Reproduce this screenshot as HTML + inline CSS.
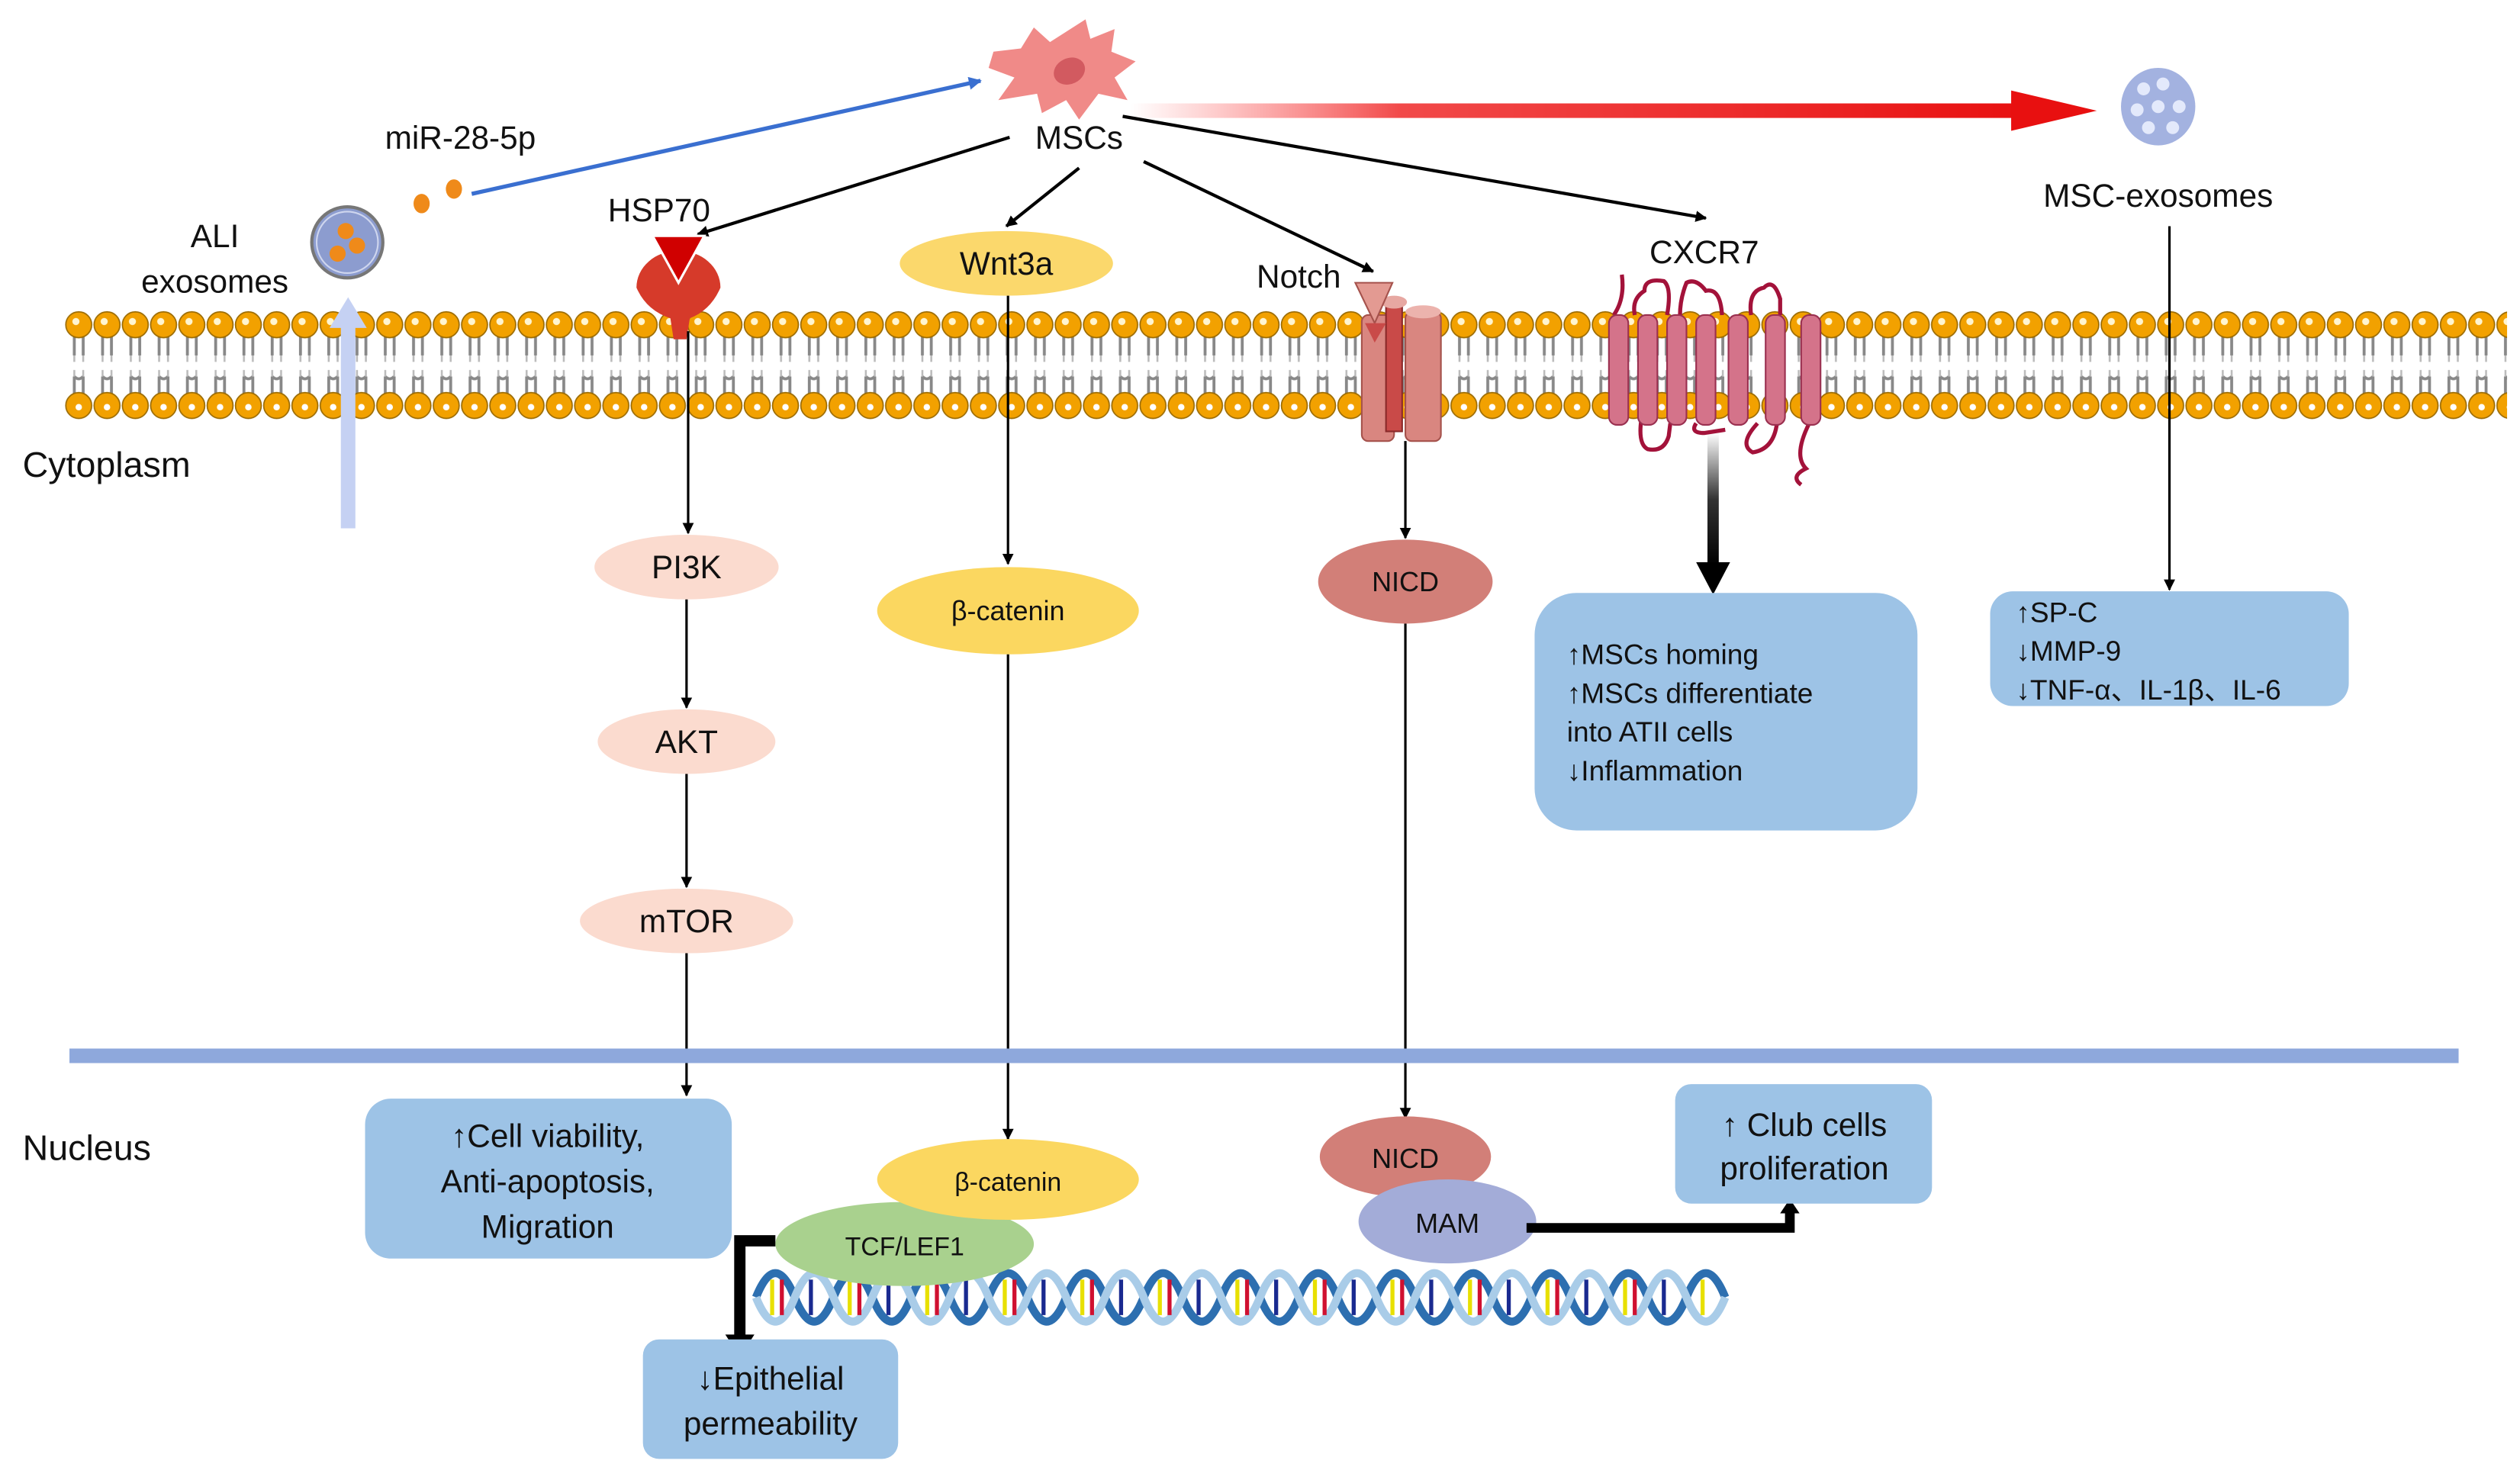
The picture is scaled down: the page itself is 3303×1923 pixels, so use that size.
<!DOCTYPE html>
<html><head><meta charset="utf-8"><style>
html,body{margin:0;padding:0;background:#fff}
svg{display:block}
text{font-family:"Liberation Sans","Noto Sans CJK SC",sans-serif;fill:#111}
</style></head><body>
<svg width="3303" height="1923" viewBox="0 0 1560 908" preserveAspectRatio="none" xmlns="http://www.w3.org/2000/svg">
<defs>
<pattern id="lip" x="40" y="190" width="17.5" height="72" patternUnits="userSpaceOnUse">
 <path d="M6 17 v13 M11.5 17 v13 M6 17 q2.75 -3 5.5 0 M6 43 v11 M11.5 43 v11 M6 43 q2.75 3 5.5 0" stroke="#888" stroke-width="1.8" fill="none"/>
 <path d="M6 30 v4 M11.5 30 v4 M6 39 v4 M11.5 39 v4" stroke="#bbb" stroke-width="1.2"/>
 <circle cx="8.75" cy="11" r="8" fill="#f2a100" stroke="#9a6a00" stroke-width="0.8"/>
 <circle cx="8.75" cy="61" r="8" fill="#f2a100" stroke="#9a6a00" stroke-width="0.8"/>
 <circle cx="7" cy="9" r="2.2" fill="#fff5d0"/>
 <circle cx="8.75" cy="62" r="2" fill="#fff"/>
</pattern>
<linearGradient id="redg" x1="0" x2="1" y1="0" y2="0">
 <stop offset="0" stop-color="#ff4040" stop-opacity="0"/>
 <stop offset="0.3" stop-color="#ee1c1c" stop-opacity="0.8"/>
 <stop offset="1" stop-color="#e81010"/>
</linearGradient>
<linearGradient id="blk" x1="0" x2="0" y1="0" y2="1">
 <stop offset="0" stop-color="#000" stop-opacity="0"/>
 <stop offset="0.5" stop-color="#000" stop-opacity="0.8"/>
 <stop offset="1" stop-color="#000"/>
</linearGradient>
<marker id="ar" viewBox="0 0 10 10" refX="9" refY="5" markerWidth="7" markerHeight="7" orient="auto" markerUnits="userSpaceOnUse"><path d="M0 0L10 5L0 10z" fill="#000"/></marker>
<marker id="arb" viewBox="0 0 10 10" refX="9" refY="5" markerWidth="8" markerHeight="8" orient="auto" markerUnits="userSpaceOnUse"><path d="M0 0L10 5L0 10z" fill="#3a6fd0"/></marker>
</defs>

<!-- membrane -->
<rect x="40" y="190" width="1512" height="72" fill="url(#lip)"/>

<!-- light blue up arrow -->
<rect x="211" y="200" width="9" height="127" fill="#c5d1f3"/>
<path d="M204 203 L215.5 184 L227 203z" fill="#c5d1f3"/>

<!-- ALI exosome -->
<circle cx="215" cy="150" r="22" fill="#8c9ccf" stroke="#777" stroke-width="2"/>
<circle cx="215" cy="150" r="19" fill="none" stroke="#cfd6ee" stroke-width="1"/>
<circle cx="214" cy="143" r="5" fill="#ef8a1a"/><circle cx="221" cy="152" r="5" fill="#ef8a1a"/><circle cx="209" cy="157" r="5" fill="#ef8a1a"/>
<text x="133" y="153" font-size="20" text-anchor="middle">ALI</text>
<text x="133" y="181" font-size="20" text-anchor="middle">exosomes</text>
<ellipse cx="261" cy="126" rx="5" ry="6" fill="#ef8a1a"/><ellipse cx="281" cy="117" rx="5" ry="6" fill="#ef8a1a"/>
<text x="285" y="92" font-size="20" text-anchor="middle">miR-28-5p</text>
<line x1="292" y1="120" x2="607" y2="50" stroke="#3a6fd0" stroke-width="2.5" marker-end="url(#arb)"/>

<!-- MSC cell -->
<path d="M615 32 L632 30 L640 17 L650 26 L672 12 L675 24 L690 18 L688 32 L703 38 L690 48 L698 62 L680 58 L668 74 L660 62 L645 70 L642 58 L618 62 L628 48 L612 42z" fill="#f08a88"/>
<ellipse cx="662" cy="44" rx="10" ry="8" fill="#d25a60" transform="rotate(-25 662 44)"/>
<text x="668" y="92" font-size="20" text-anchor="middle">MSCs</text>

<!-- red arrow -->
<rect x="700" y="64" width="555" height="9" fill="url(#redg)"/>
<path d="M1245 56 L1298 68.5 L1245 81z" fill="#e81010"/>
<!-- MSC exosome -->
<ellipse cx="1336" cy="66" rx="23" ry="24" fill="#a3b2e0"/>
<g fill="#e3e9fb"><circle cx="1327" cy="55" r="4"/><circle cx="1339" cy="52" r="4"/><circle cx="1323" cy="68" r="4"/><circle cx="1336" cy="66" r="4"/><circle cx="1349" cy="66" r="4"/><circle cx="1330" cy="79" r="4"/><circle cx="1345" cy="79" r="4"/></g>
<text x="1336" y="128" font-size="20" text-anchor="middle">MSC-exosomes</text>

<!-- MSC arrows -->
<line x1="625" y1="85" x2="432" y2="145" stroke="#000" stroke-width="2" marker-end="url(#ar)"/>
<line x1="668" y1="104" x2="623" y2="140" stroke="#000" stroke-width="2" marker-end="url(#ar)"/>
<line x1="708" y1="100" x2="850" y2="168" stroke="#000" stroke-width="2" marker-end="url(#ar)"/>
<line x1="695" y1="72" x2="1056" y2="135" stroke="#000" stroke-width="2" marker-end="url(#ar)"/>

<!-- HSP70 -->
<text x="408" y="137" font-size="20" text-anchor="middle">HSP70</text>
<path d="M394 178 A25 22 0 1 1 446 178 Q440 192 427 197 L425 210 L417 210 L415 197 Q400 192 394 178z" fill="#d63a2a"/>
<path d="M404 146 L436 146 L420 175z" fill="#d00000" stroke="#fff" stroke-width="1.5"/>

<!-- Wnt3a -->
<ellipse cx="623" cy="163" rx="66" ry="20" fill="#fbd86c"/>
<text x="623" y="170" font-size="20" text-anchor="middle">Wnt3a</text>

<!-- Notch -->
<text x="804" y="178" font-size="20" text-anchor="middle">Notch</text>
<rect x="843" y="195" width="20" height="78" rx="4" fill="#d98680" stroke="#a5524c"/>
<rect x="858" y="187" width="10" height="80" fill="#c94a48" stroke="#8a2a2a"/>
<ellipse cx="863" cy="187" rx="8" ry="4" fill="#e7a8a2"/>
<rect x="870" y="193" width="22" height="80" rx="4" fill="#d98680" stroke="#a5524c"/>
<ellipse cx="881" cy="193" rx="11" ry="4" fill="#ecb3ad"/>
<path d="M839 175 L862 175 L851 200z" fill="#e39a92" stroke="#a5524c"/>
<path d="M845 200 L858 200 L851 212z" fill="#c94a48"/>

<!-- CXCR7 -->
<text x="1055" y="163" font-size="20" text-anchor="middle">CXCR7</text>
<path d="M1004 170 Q1006 185 999 195 M1012 195 Q1010 185 1018 180 Q1018 172 1030 174 Q1035 178 1032 195 M1040 195 Q1040 185 1044 175 Q1050 172 1056 180 Q1065 178 1066 195 M1084 195 Q1082 180 1092 178 Q1098 172 1102 185 L1102 195 M1016 260 Q1014 275 1020 278 Q1030 280 1033 270 L1034 262 M1050 262 Q1046 268 1055 268 L1068 266 M1088 262 Q1076 275 1085 280 Q1098 278 1100 262 M1120 262 Q1110 282 1118 290 Q1108 295 1115 300" stroke="#a3123a" stroke-width="2.5" fill="none"/>
<g fill="#d4738a" stroke="#9a3050" stroke-width="1">
<rect x="996" y="195" width="12" height="68" rx="5"/><rect x="1014" y="195" width="12" height="68" rx="5"/><rect x="1032" y="195" width="12" height="68" rx="5"/><rect x="1050" y="195" width="12" height="68" rx="5"/><rect x="1070" y="195" width="12" height="68" rx="5"/><rect x="1093" y="195" width="12" height="68" rx="5"/><rect x="1115" y="195" width="12" height="68" rx="5"/></g>

<text x="14" y="295" font-size="22">Cytoplasm</text>

<!-- PI3K pathway -->
<line x1="426" y1="205" x2="426" y2="330" stroke="#000" stroke-width="1.5" marker-end="url(#ar)"/>
<ellipse cx="425" cy="351" rx="57" ry="20" fill="#fbdbcf"/>
<text x="425" y="358" font-size="20" text-anchor="middle">PI3K</text>
<line x1="425" y1="371" x2="425" y2="438" stroke="#000" stroke-width="1.5" marker-end="url(#ar)"/>
<ellipse cx="425" cy="459" rx="55" ry="20" fill="#fbdbcf"/>
<text x="425" y="466" font-size="20" text-anchor="middle">AKT</text>
<line x1="425" y1="479" x2="425" y2="549" stroke="#000" stroke-width="1.5" marker-end="url(#ar)"/>
<ellipse cx="425" cy="570" rx="66" ry="20" fill="#fbdbcf"/>
<text x="425" y="577" font-size="20" text-anchor="middle">mTOR</text>
<line x1="425" y1="590" x2="425" y2="678" stroke="#000" stroke-width="1.5" marker-end="url(#ar)"/>

<!-- Wnt pathway -->
<line x1="624" y1="183" x2="624" y2="349" stroke="#000" stroke-width="1.5" marker-end="url(#ar)"/>
<ellipse cx="624" cy="378" rx="81" ry="27" fill="#fbd760"/>
<text x="624" y="384" font-size="17" text-anchor="middle">β-catenin</text>
<line x1="624" y1="405" x2="624" y2="705" stroke="#000" stroke-width="1.5" marker-end="url(#ar)"/>

<!-- Notch pathway -->
<line x1="870" y1="273" x2="870" y2="333" stroke="#000" stroke-width="1.5" marker-end="url(#ar)"/>
<ellipse cx="870" cy="360" rx="54" ry="26" fill="#d27f78"/>
<text x="870" y="366" font-size="17" text-anchor="middle">NICD</text>
<line x1="870" y1="386" x2="870" y2="692" stroke="#000" stroke-width="1.5" marker-end="url(#ar)"/>

<!-- CXCR7 thick arrow -->
<rect x="1057" y="268" width="7" height="82" fill="url(#blk)"/>
<path d="M1050 348 L1071 348 L1060.5 368z" fill="#000"/>
<rect x="950" y="367" width="237" height="147" rx="26" fill="#9dc3e6"/>
<g font-size="17.5"><text x="970" y="411">↑MSCs homing</text><text x="970" y="435">↑MSCs differentiate</text><text x="970" y="459">into ATII cells</text><text x="970" y="483">↓Inflammation</text></g>

<!-- exosome arrow -->
<line x1="1343" y1="140" x2="1343" y2="365" stroke="#000" stroke-width="1.5" marker-end="url(#ar)"/>
<rect x="1232" y="366" width="222" height="71" rx="14" fill="#9dc3e6"/>
<g font-size="17.5"><text x="1248" y="385">↑SP-C</text><text x="1248" y="409">↓MMP-9</text><text x="1248" y="433">↓TNF-α、IL-1β、IL-6</text></g>

<!-- nuclear membrane -->
<rect x="43" y="649" width="1479" height="9" fill="#8ea8dc"/>
<text x="14" y="718" font-size="22">Nucleus</text>

<rect x="226" y="680" width="227" height="99" rx="16" fill="#9dc3e6"/>
<g font-size="20" text-anchor="middle"><text x="339" y="710">↑Cell viability,</text><text x="339" y="738">Anti-apoptosis,</text><text x="339" y="766">Migration</text></g>

<!-- DNA -->
<g fill="none" stroke-width="5">
<path d="M468 803 q12 -30 24 0 t24 0 t24 0 t24 0 t24 0 t24 0 t24 0 t24 0 t24 0 t24 0 t24 0 t24 0 t24 0 t24 0 t24 0 t24 0 t24 0 t24 0 t24 0 t24 0 t24 0 t24 0 t24 0 t24 0 t24 0" stroke="#2d6fb0"/>
<path d="M468 803 q12 30 24 0 t24 0 t24 0 t24 0 t24 0 t24 0 t24 0 t24 0 t24 0 t24 0 t24 0 t24 0 t24 0 t24 0 t24 0 t24 0 t24 0 t24 0 t24 0 t24 0 t24 0 t24 0 t24 0 t24 0 t24 0" stroke="#a9cce8"/>
</g>
<g stroke-width="2.5">
<path d="M478 792v22M526 792v22M574 792v22M622 792v22M670 792v22M718 792v22M766 792v22M814 792v22M862 792v22M910 792v22M958 792v22M1006 792v22M1054 792v22" stroke="#e8e000"/>
<path d="M484 792v22M532 792v22M580 792v22M628 792v22M676 792v22M724 792v22M772 792v22M820 792v22M868 792v22M916 792v22M964 792v22M1012 792v22" stroke="#d01030"/>
<path d="M502 792v22M550 792v22M598 792v22M646 792v22M694 792v22M742 792v22M790 792v22M838 792v22M886 792v22M934 792v22M982 792v22M1030 792v22" stroke="#1a2a90"/>
</g>

<ellipse cx="560" cy="770" rx="80" ry="26" fill="#a9d18e"/>
<text x="560" y="777" font-size="16" text-anchor="middle">TCF/LEF1</text>
<ellipse cx="624" cy="730" rx="81" ry="25" fill="#fbd760"/>
<text x="624" y="737" font-size="16" text-anchor="middle">β-catenin</text>

<ellipse cx="870" cy="716" rx="53" ry="25" fill="#d27f78"/>
<text x="870" y="723" font-size="17" text-anchor="middle">NICD</text>
<ellipse cx="896" cy="756" rx="55" ry="26" fill="#a3acd8"/>
<text x="896" y="763" font-size="17" text-anchor="middle">MAM</text>

<!-- thick arrows -->
<path d="M945 760 H1108 V749" stroke="#000" stroke-width="6" fill="none"/>
<path d="M1102 751 L1114 751 L1108 742z" fill="#000"/>
<path d="M480 768 H458 V830" stroke="#000" stroke-width="7" fill="none"/>
<path d="M449 826 L467 826 L458 840z" fill="#000"/>

<rect x="1037" y="671" width="159" height="74" rx="10" fill="#9dc3e6"/>
<g font-size="20" text-anchor="middle"><text x="1117" y="703">↑ Club cells</text><text x="1117" y="730">proliferation</text></g>
<rect x="398" y="829" width="158" height="74" rx="10" fill="#9dc3e6"/>
<g font-size="20" text-anchor="middle"><text x="477" y="860">↓Epithelial</text><text x="477" y="888">permeability</text></g>
</svg>
</body></html>
